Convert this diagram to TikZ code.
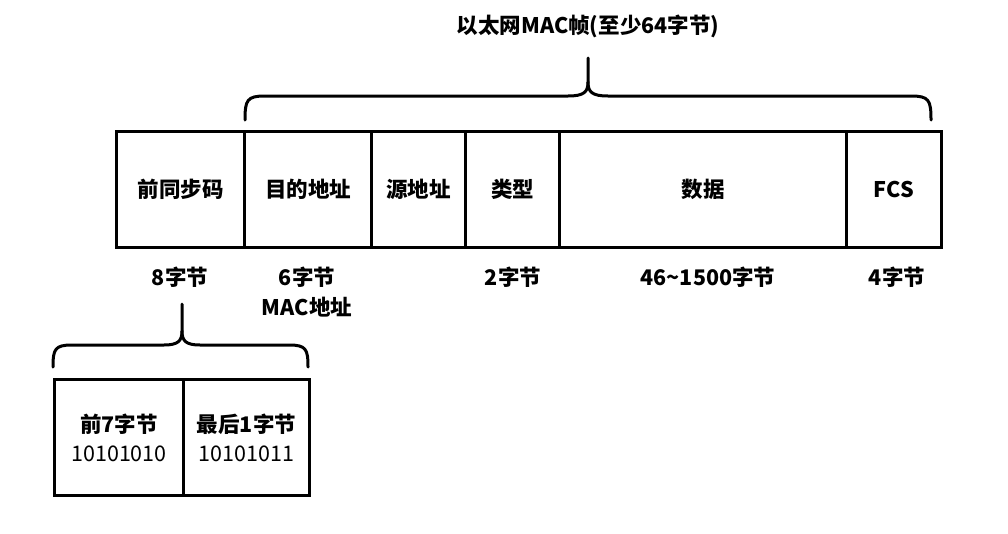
\documentclass[tikz,border=0pt]{standalone}
\usepackage{fontspec}
\setmainfont{Noto Sans CJK SC}
\begin{document}
\begin{tikzpicture}[x=1pt,y=-1pt,
    field/.style={draw, line width=3pt, minimum height=116pt, inner sep=0pt, anchor=north west},
    lbl/.style={font=\fontsize{21.5}{29}\selectfont\bfseries, align=center},
    brace/.style={line width=3pt, line cap=round, line join=round}]
    \useasboundingbox (0,0) rectangle (1008,533);

    % Trame MAC
    \foreach \x/\w/\t/\n in {115/128/前同步码/pre, 243/127/目的地址/dst, 370/94/源地址/src,
                             464/94/类型/typ, 558/287/数据/dat, 845/95/FCS/fcs} {
        \node[field, lbl, minimum width=\w pt] (f-\n) at (\x,130) {\t};
    }

    % Longueurs
    \node[lbl] (len-pre) at (180,277) {8字节};
    \node[lbl] (len-dst) at (307,277) {6字节};
    \node[lbl] (mac-dst) at (307,307) {MAC地址};
    \node[lbl] (len-typ) at (513,277) {2字节};
    \node[lbl] (len-dat) at (708,277) {46\textasciitilde1500字节};
    \node[lbl] (len-fcs) at (897,277) {4字节};

    % Accolade du haut
    \node[lbl] (title) at (588,26) {以太网MAC帧(至少64字节)};
    \draw[brace] (245,120) .. controls (245,100) and (247,96) .. (265,96) -- (568,96)
        .. controls (584,96) and (588,92) .. (588,82) -- (588,58);
    \draw[brace] (588,82) .. controls (588,92) and (592,96) .. (608,96) -- (911,96)
        .. controls (929,96) and (931,100) .. (931,120);

    % Accolade du bas
    \draw[brace] (53,367) .. controls (53,349) and (55,345) .. (72,345) -- (164,345)
        .. controls (178,345) and (182,341) .. (182,331) -- (182,304);
    \draw[brace] (182,331) .. controls (182,341) and (186,345) .. (200,345) -- (289,345)
        .. controls (306,345) and (308,349) .. (308,367);

    % Préambule détaillé
    \node[field, lbl, minimum width=129pt] (p-first) at (53,378) {前7字节\\\mdseries 10101010};
    \node[field, lbl, minimum width=126pt] (p-last) at (182,378) {最后1字节\\\mdseries 10101011};
\end{tikzpicture}
\end{document}
